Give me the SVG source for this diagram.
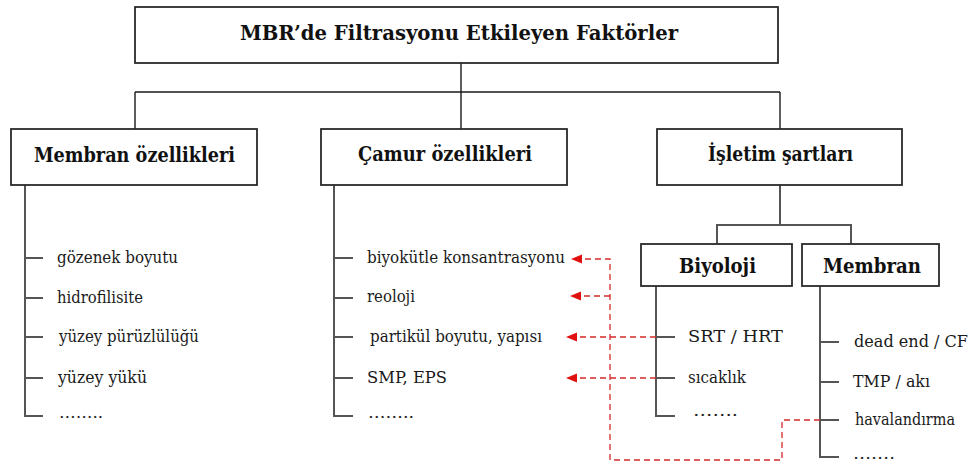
<svg xmlns="http://www.w3.org/2000/svg" width="976" height="465" viewBox="0 0 976 465">
  <style>
    .box { fill: #ffffff; stroke: #2a2a2a; stroke-width: 1.8; }
    .head { font-family: "DejaVu Serif", "Liberation Serif", serif; font-weight: bold; fill: #111; }
    .item { font-family: "DejaVu Serif", "Liberation Serif", serif; font-size: 16px; fill: #1a1a1a; }
    .link { fill: none; stroke: #1a1a1a; stroke-width: 1.4; }
    .tree { fill: none; stroke: #555555; stroke-width: 2; }
    .dash { fill: none; stroke: #d42a2a; stroke-width: 1.3; stroke-dasharray: 6 4; }
  </style>
  <defs>
    <marker id="redhead" markerUnits="userSpaceOnUse" markerWidth="12" markerHeight="10" refX="11" refY="4.5" orient="auto">
      <path d="M0,0 L11,4.5 L0,9 z" fill="#e01010"/>
    </marker>
  </defs>
  <rect width="976" height="465" fill="#ffffff"/>

  <!-- connectors -->
  <g id="connectors">
    <path class="link" d="M461,63 V92 M135,92 H780 M135,92 V129 M461,92 V129 M780,92 V129"/>
    <path class="tree" d="M780,185 V225 M717,225 H851 M717,224 V244 M851,224 V244"/>
    <path class="tree" d="M25,185 V416 H43 M25,258 H43 M25,298 H43 M25,337 H43 M25,378 H43"/>
    <path class="tree" d="M334,185 V416 H353 M334,258 H353 M334,298 H353 M334,337 H353 M334,378 H353"/>
    <path class="tree" d="M656,286 V416 H675 M656,337 H675 M656,378 H675"/>
    <path class="tree" d="M820,286 V457 H839 M820,342 H839 M820,382 H839 M820,420 H839"/>
    <path class="dash" d="M820,420 H782 V460 H610 V259 H571" marker-end="url(#redhead)"/>
    <path class="dash" d="M610,296 H570" marker-end="url(#redhead)"/>
    <path class="dash" d="M656,337 H566" marker-end="url(#redhead)"/>
    <path class="dash" d="M656,378 H566" marker-end="url(#redhead)"/>
  </g>

  <!-- root -->
  <g id="root">
    <rect class="box" x="135" y="7" width="643" height="56"/>
    <text class="head" x="240" y="40" font-size="21" textLength="438" lengthAdjust="spacingAndGlyphs">MBR’de Filtrasyonu Etkileyen Faktörler</text>
  </g>

  <!-- membrane properties -->
  <g id="membran-ozellikleri">
    <rect class="box" x="11" y="129" width="246" height="56"/>
    <text class="head" x="34" y="162" font-size="20" textLength="201" lengthAdjust="spacingAndGlyphs">Membran özellikleri</text>
    <text class="item" x="57" y="263" textLength="121" lengthAdjust="spacingAndGlyphs">gözenek boyutu</text>
    <text class="item" x="57" y="303" textLength="86" lengthAdjust="spacingAndGlyphs">hidrofilisite</text>
    <text class="item" x="59" y="342" textLength="140" lengthAdjust="spacingAndGlyphs">yüzey pürüzlülüğü</text>
    <text class="item" x="58" y="383" textLength="89" lengthAdjust="spacingAndGlyphs">yüzey yükü</text>
    <text class="item" x="59" y="418" textLength="44" lengthAdjust="spacingAndGlyphs">……..</text>
  </g>

  <!-- sludge properties -->
  <g id="camur-ozellikleri">
    <rect class="box" x="321" y="129" width="246" height="56"/>
    <text class="head" x="358" y="161" font-size="20" textLength="174" lengthAdjust="spacingAndGlyphs">Çamur özellikleri</text>
    <text class="item" x="367" y="263" textLength="198" lengthAdjust="spacingAndGlyphs">biyokütle konsantrasyonu</text>
    <text class="item" x="367" y="302" textLength="48" lengthAdjust="spacingAndGlyphs">reoloji</text>
    <text class="item" x="370" y="342" textLength="172" lengthAdjust="spacingAndGlyphs">partikül boyutu, yapısı</text>
    <text class="item" x="367" y="383" textLength="80" lengthAdjust="spacingAndGlyphs">SMP, EPS</text>
    <text class="item" x="368" y="418" textLength="46" lengthAdjust="spacingAndGlyphs">……..</text>
  </g>

  <!-- operating conditions -->
  <g id="isletim-sartlari">
    <rect class="box" x="657" y="129" width="245" height="56"/>
    <text class="head" x="708" y="161" font-size="20" textLength="145" lengthAdjust="spacingAndGlyphs">İşletim şartları</text>
  </g>

  <g id="biyoloji">
    <rect class="box" x="641" y="244" width="151" height="42"/>
    <text class="head" x="679" y="273" font-size="20" textLength="77" lengthAdjust="spacingAndGlyphs">Biyoloji</text>
    <text class="item" x="688" y="342" textLength="95" lengthAdjust="spacingAndGlyphs">SRT / HRT</text>
    <text class="item" x="688" y="383" textLength="58" lengthAdjust="spacingAndGlyphs">sıcaklık</text>
    <text class="item" x="693" y="416" textLength="45" lengthAdjust="spacingAndGlyphs">…….</text>
  </g>

  <g id="membran">
    <rect class="box" x="802" y="244" width="137" height="42"/>
    <text class="head" x="823" y="273" font-size="20" textLength="98" lengthAdjust="spacingAndGlyphs">Membran</text>
    <text class="item" x="854" y="347" textLength="114" lengthAdjust="spacingAndGlyphs">dead end / CF</text>
    <text class="item" x="853" y="387" textLength="77" lengthAdjust="spacingAndGlyphs">TMP / akı</text>
    <text class="item" x="855" y="425" textLength="100" lengthAdjust="spacingAndGlyphs">havalandırma</text>
    <text class="item" x="853" y="459" textLength="42" lengthAdjust="spacingAndGlyphs">…….</text>
  </g>
</svg>
